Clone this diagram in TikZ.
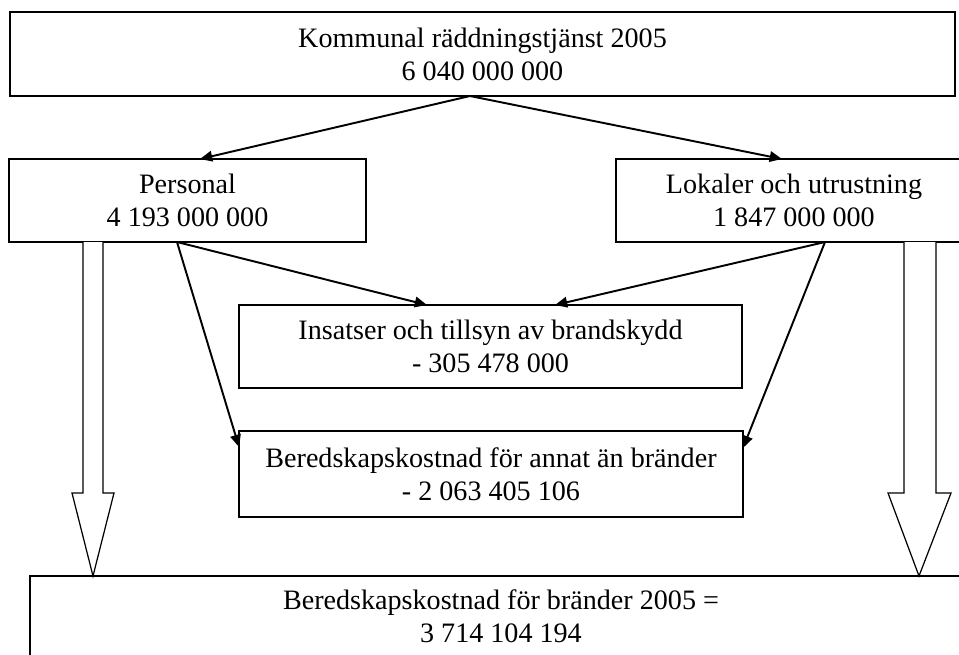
\documentclass[tikz,border=0pt]{standalone}
\usepackage{fontspec}
\setmainfont{Liberation Serif}
\usepackage{tikz}
\usetikzlibrary{calc,arrows.meta}
\tikzset{
  box/.style={draw=black, line width=0.8pt, inner sep=0pt, outer sep=0pt, align=center,
    font=\fontsize{16}{18.8}\selectfont},
  link/.style={draw=black, line width=1.1pt, -{Triangle[length=7pt,width=6pt]}},
  bigarrow/.style={draw=black, line width=0.7pt, fill=white, line join=miter},
}

\begin{document}
\begin{tikzpicture}[x=0.02cm, y=-0.02cm]
\useasboundingbox (0,0) rectangle (959,654);

\node[box, minimum width=18.9cm, minimum height=1.68cm] (top) at (482.5,54)
  {Kommunal räddningstjänst 2005\\6 040 000 000};
\node[box, minimum width=7.14cm, minimum height=1.66cm] (pers) at (187.5,200.5)
  {Personal\\4 193 000 000};
\node[box, minimum width=7.12cm, minimum height=1.66cm] (lok) at (794,200.5)
  {Lokaler och utrustning\\1 847 000 000};
\node[box, minimum width=10.06cm, minimum height=1.66cm] (ins) at (490.5,346.5)
  {Insatser och tillsyn av brandskydd\\- 305 478 000};
\node[box, minimum width=10.08cm, minimum height=1.72cm] (ber) at (491,474)
  {Beredskapskostnad för annat än bränder\\- 2 063 405 106};
\node[box, minimum width=18.84cm, minimum height=1.6cm] (total) at (501,616)
  {Beredskapskostnad för bränder 2005 =\\3 714 104 194};

% fordelning
\draw[link] ($(top.south)+(-12.5,0)$) -- ($(pers.north)+(12.5,0)$);
\draw[link] ($(top.south)+(-12.5,0)$) -- ($(lok.north)+(-12,0)$);
\draw[link] ($(pers.south)+(-10.5,0)$) -- ($(ins.north)+(-63.5,0)$);
\draw[link] ($(pers.south)+(-10.5,0)$) -- ($(ber.north west)+(0,16)$);
\draw[link] ($(lok.south)+(31,0)$) -- ($(ins.north)+(64.5,0)$);
\draw[link] ($(lok.south)+(31,0)$) -- ($(ber.north east)+(0,17)$);

% breda pilar ner till summan
\draw[bigarrow] (83,242) -- (83,493) -- (72,493) -- (93,576) -- (114,493) -- (103,493) -- (103,242);
\draw[bigarrow] (904,242) -- (904,493) -- (888,493) -- (919,576) -- (951,493) -- (936,493) -- (936,242);
\end{tikzpicture}
\end{document}
